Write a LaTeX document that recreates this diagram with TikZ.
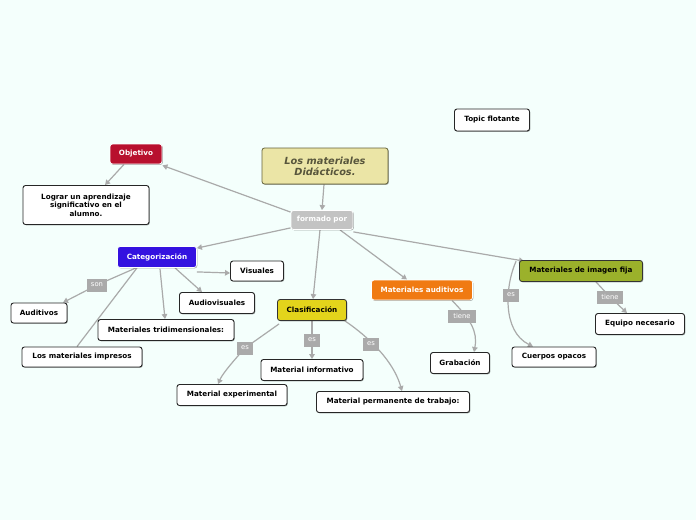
\documentclass[tikz,border=0pt]{standalone}
\usepackage{fontspec}
\setmainfont{DejaVu Sans}
\usetikzlibrary{arrows.meta,shadows}
\definecolor{bgc}{RGB}{244,255,252}
\definecolor{lgray}{RGB}{170,170,170}
\definecolor{maincol}{RGB}{235,229,166}
\definecolor{mainbd}{RGB}{100,98,58}
\definecolor{maintx}{RGB}{88,86,60}
\definecolor{objcol}{RGB}{184,16,46}
\definecolor{catcol}{RGB}{52,18,224}
\definecolor{clascol}{RGB}{227,212,27}
\definecolor{audcol}{RGB}{240,122,18}
\definecolor{imgcol}{RGB}{155,177,43}
\definecolor{formcol}{RGB}{195,195,195}
\pgfdeclarelayer{bg0}
\pgfdeclarelayer{background}
\pgfsetlayers{bg0,background,main}
\tikzset{
  base/.style={rounded corners=2.5pt, inner sep=2pt, align=center,
    font=\fontsize{7.2}{8.6}\selectfont\bfseries,
    drop shadow={shadow xshift=0.8pt, shadow yshift=-0.8pt, opacity=0.35, fill=black}},
  topic/.style={base, draw=black!85, line width=0.9pt, fill=white, minimum height=21pt},
  colored/.style={base, fill=#1, draw=white, line width=0.8pt, text=white, minimum height=21pt},
  coloreddark/.style={base, fill=#1, draw=black!80, line width=0.8pt, text=black, minimum height=21pt},
  lbl/.style={fill=lgray, text=white, inner sep=1pt, minimum width=20pt, minimum height=13pt,
    font=\fontsize{6.8}{7.5}\selectfont},
  conn/.style={draw=lgray, line width=1.2pt, -{Triangle[length=5pt,width=5.5pt]}},
  plain/.style={draw=lgray, line width=1.2pt}
}
\begin{document}
\begin{tikzpicture}[x=1pt,y=-1pt]
\begin{pgfonlayer}{bg0}
\fill[bgc] (0,0) rectangle (696,520);
\end{pgfonlayer}
\useasboundingbox (0,0) rectangle (696,520);

% nodes
\node[base, fill=maincol, draw=mainbd, line width=0.8pt, text=maintx, minimum width=126pt, minimum height=36pt,
  font=\fontsize{9.8}{11}\selectfont\bfseries\itshape] (main) at (325,166) {Los materiales\\Didácticos.};
\node[colored=formcol, minimum width=62pt, minimum height=19pt] (form) at (322,220) {formado por};
\node[colored=objcol, minimum width=52pt, minimum height=20pt] (obj) at (136,154) {Objetivo};
\node[topic, minimum width=126pt, minimum height=39pt] (lograr) at (86,205)
  {Lograr un aprendizaje\\significativo en el\\alumno.};
\node[colored=catcol, minimum width=79pt] (cat) at (157,257) {Categorización};
\node[topic, minimum width=53pt, minimum height=20pt] (vis) at (257,271) {Visuales};
\node[topic, minimum width=56pt, minimum height=20pt] (audi) at (39,313) {Auditivos};
\node[topic, minimum width=75pt] (audv) at (217,303) {Audiovisuales};
\node[topic, minimum width=136pt] (tri) at (166,330) {Materiales tridimensionales:};
\node[topic, minimum width=120pt, minimum height=20pt] (imp) at (82,357) {Los materiales impresos};
\node[coloreddark=clascol, minimum width=69pt] (clas) at (312,310) {Clasificación};
\node[topic, minimum width=102pt] (inf) at (312,370) {Material informativo};
\node[topic, minimum width=110pt] (exp) at (232,395) {Material experimental};
\node[topic, minimum width=153pt] (perm) at (393,402) {Material permanente de trabajo:};
\node[colored=audcol, minimum width=101pt, minimum height=20pt] (maud) at (422,290) {Materiales auditivos};
\node[topic, minimum width=59pt] (grab) at (460,363) {Grabación};
\node[coloreddark=imgcol, minimum width=123pt] (img) at (581,271) {Materiales de imagen fija};
\node[topic, minimum width=89pt] (equ) at (640,324) {Equipo necesario};
\node[topic, minimum width=84pt, minimum height=20pt] (cue) at (554,357) {Cuerpos opacos};
\node[topic, minimum width=75pt, minimum height=22pt] (top) at (492,120) {Topic flotante};

% labels
\node[lbl] (lson) at (97,285) {son};
\node[lbl, minimum width=16pt] (les1) at (245,348) {es};
\node[lbl, minimum width=16pt] (les2) at (312,340) {es};
\node[lbl, minimum width=16pt] (les3) at (371,344) {es};
\node[lbl, minimum width=28pt] (ltiene1) at (462,316) {tiene};
\node[lbl, minimum width=16pt] (les4) at (511,295) {es};
\node[lbl, minimum width=26pt] (ltiene2) at (610,297) {tiene};

% connectors
\begin{pgfonlayer}{background}
\draw[conn] ([xshift=-1pt]main.south) -- (form.north);
\draw[conn] ([yshift=-2pt]form.north west) -- ([yshift=-1pt]obj.south east);
\draw[conn] ([yshift=2pt]form.south west) -- ([yshift=-2pt]cat.north east);
\draw[conn] ([xshift=-2pt]form.south) -- ([xshift=1pt]clas.north);
\draw[conn] ([xshift=18pt]form.south) -- ([xshift=-15pt]maud.north);
\draw[conn] ([yshift=-2pt]form.south east) -- ([xshift=5pt,yshift=-1pt]img.north west);
\draw[conn] ([xshift=-12pt]obj.south) -- ([xshift=19pt]lograr.north);
\draw[conn] ([yshift=-4pt]cat.south east) -- ([yshift=-2pt]vis.west);
\draw[conn] ([xshift=-21pt]cat.south) -- (lson.center) -- ([xshift=24pt]audi.north);
\draw[conn] ([xshift=18pt]cat.south) -- ([xshift=-15pt]audv.north);
\draw[conn] ([xshift=3pt,yshift=-1pt]cat.south) -- ([xshift=-1pt]tri.north);
\draw[plain] ([xshift=-20pt]cat.south) -- ([xshift=-5pt]imp.north);
\draw[conn] ([xshift=2pt,yshift=-3pt]clas.south west) -- (les1.center) .. controls (228,367) and (222,375) .. ([xshift=-14pt]exp.north);
\draw[conn] (clas.south) -- (les2.center) -- (inf.north);
\draw[conn] ([xshift=-2pt]clas.south east) .. controls (360,331) and (392,356) .. ([xshift=9pt]perm.north);
\draw[conn] ([xshift=30pt]maud.south) .. controls (470,319) and (478,331) .. ([xshift=14pt]grab.north);
\draw[conn] ([xshift=-3pt,yshift=-1pt]img.north west) .. controls (505,286) and (502,331) .. ([xshift=-21pt]cue.north);
\draw[conn] ([xshift=15pt]img.south) -- (ltiene2.center) -- ([xshift=-13pt]equ.north);
\end{pgfonlayer}
\end{tikzpicture}
\end{document}
